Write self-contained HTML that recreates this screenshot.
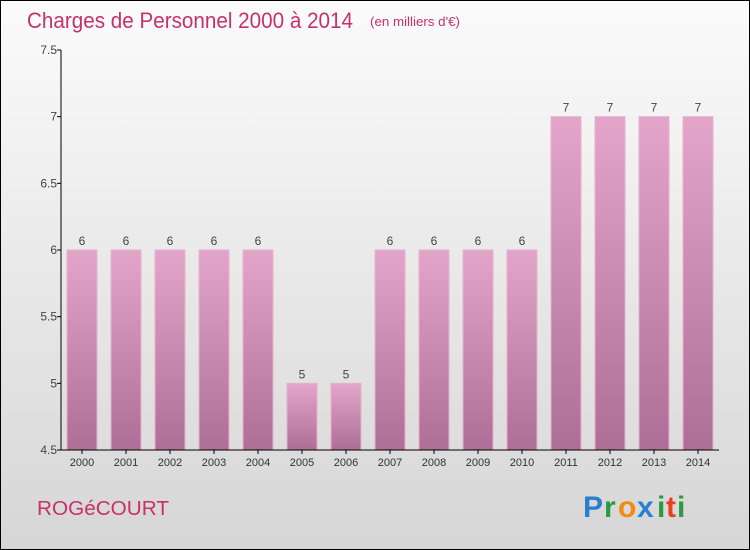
<!DOCTYPE html>
<html><head><meta charset="utf-8"><style>
body{margin:0}
#c{position:relative;width:748px;height:548px;border:1px solid #000;background:linear-gradient(#fbfbfb,#f0f0f0 30%,#d6d6d6);font-family:"Liberation Sans",sans-serif;overflow:hidden}
</style></head><body>
<div id="c">
<svg width="748" height="548" style="position:absolute;left:0;top:0">
<defs><linearGradient id="bg" x1="0" y1="0" x2="0" y2="1"><stop offset="0" stop-color="#e4a5ca"/><stop offset="1" stop-color="#ad6f95"/></linearGradient></defs>
<text x="26" y="27" font-size="22" fill="#c8306a" textLength="326" lengthAdjust="spacingAndGlyphs">Charges de Personnel 2000 à 2014</text>
<text x="369" y="25" font-size="13" fill="#c8306a" textLength="90" lengthAdjust="spacingAndGlyphs">(en milliers d'€)</text>
<g id="plot"></g>
<text x="36" y="514" font-size="20" fill="#c8306a" textLength="132" lengthAdjust="spacingAndGlyphs">ROGéCOURT</text>
<g font-size="30" font-weight="bold">
<text x="582" y="516" fill="#2a7fd0">P</text><text x="603" y="516" fill="#2a9a40">r</text><text x="617" y="516" fill="#f08a10">o</text><text x="636" y="516" fill="#2a7fd0">x</text><text x="656" y="516" fill="#2a9a40">i</text><text x="665" y="516" fill="#e84020">t</text><text x="676" y="516" fill="#2a9a40">i</text>
</g>
</svg>
</div>
<script>
const years=["2000","2001","2002","2003","2004","2005","2006","2007","2008","2009","2010","2011","2012","2013","2014"];
const values=[6,6,6,6,6,5,5,6,6,6,6,7,7,7,7];
const yTicks=[4.5,5,5.5,6,6.5,7,7.5];
const yMin=4.5,yMax=7.5,plotTop=49,plotBottom=449,axisX=60,firstX=81,step=44,bw=30;
const ns="http://www.w3.org/2000/svg";
const g=document.getElementById('plot');
const yS=v=>plotBottom-(v-yMin)/(yMax-yMin)*(plotBottom-plotTop);
const xS=i=>firstX+i*step;
function mk(t,a,p){const e=document.createElementNS(ns,t);for(const k in a)e.setAttribute(k,a[k]);(p||g).appendChild(e);return e;}
values.forEach((v,i)=>{
 const r=mk('rect',{x:xS(i)-bw/2,y:yS(v),width:bw,height:plotBottom-yS(v),fill:'url(#bg)',stroke:'#e8b0d0','stroke-width':1});
 
 
 const t=mk('text',{x:xS(i),y:yS(v)-5,'font-size':12,fill:'#444','text-anchor':'middle'});t.textContent=v;
 
 
 const xl=mk('text',{x:xS(i),y:plotBottom+16,'font-size':11,fill:'#333','text-anchor':'middle'});xl.textContent=years[i];
 
 
 mk('line',{x1:xS(i),x2:xS(i),y1:plotBottom,y2:plotBottom+4,stroke:'#000'});
});
yTicks.forEach(v=>{
 mk('line',{x1:axisX-4,x2:axisX,y1:yS(v),y2:yS(v),stroke:'#000'});
 const t=mk('text',{x:axisX-4,y:yS(v)+4,'font-size':12,fill:'#444','text-anchor':'end'});t.textContent=v;
 
 
});
const ya=mk('line',{x1:axisX,x2:axisX,y1:plotTop,y2:plotBottom,stroke:'#000'});


const xa=mk('line',{x1:axisX,x2:718,y1:plotBottom,y2:plotBottom,stroke:'#000'});


</script>
</body></html>
